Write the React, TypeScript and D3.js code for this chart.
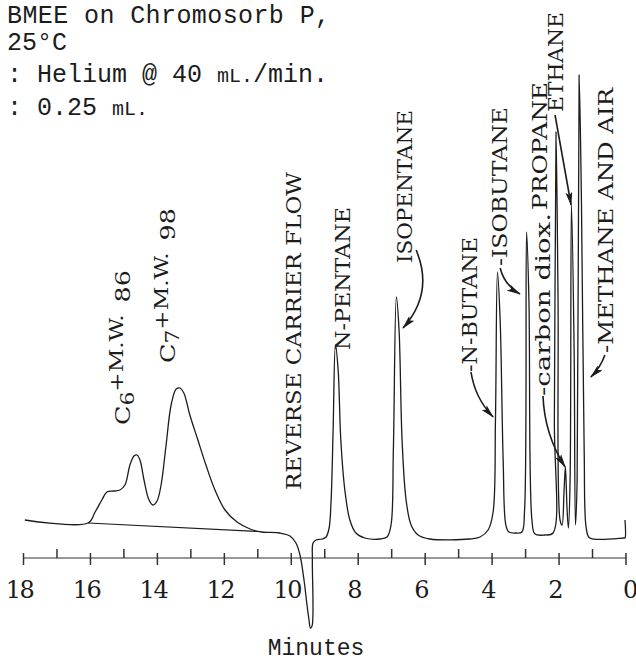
import React, { useRef, useEffect } from "react";
import * as d3 from "d3";

// Recorder trace: retention time (min) and detector response (% of full scale)
const traceTime = [
  17.96, 16.07, 15.86, 15.66, 15.51, 15.3, 15.12, 14.97, 14.82, 14.7, 14.61, 14.52, 14.4, 14.25,
  14.13, 14.01, 13.89, 13.74, 13.59, 13.44, 13.33, 13.21, 13.03, 12.79, 12.55, 12.28, 11.98, 11.62,
  11.23, 10.88, 10.34, 10.04, 9.86, 9.74, 9.62, 9.53, 9.47, 9.43,
  9.38, 9.37, 9.35, 9.26, 9.08, 8.96, 8.87, 8.81, 8.75, 8.68, 8.6, 8.52, 8.4, 8.25, 8.07, 7.8,
  7.35, 7.14, 7.02, 6.95, 6.86, 6.78, 6.69, 6.57, 6.42, 6.21, 5.86, 4.66, 4.36, 4.12, 3.97, 3.9,
  3.84, 3.76, 3.67, 3.59, 3.5, 3.29, 3.11, 3.03, 2.97, 2.9, 2.81, 2.72, 2.42, 2.18, 2.14, 2.09,
  2.03, 1.97, 1.91, 1.85, 1.81, 1.76, 1.72, 1.67, 1.63, 1.55, 1.51, 1.46, 1.4, 1.33, 1.25, 1.18,
  1.08, 0.06, 0.03, 0.03,
];
const traceSignal = [
  3.8, 3.2, 5.4, 7.8, 9.4, 9.6, 9.8, 10.8, 14.8, 16.6, 16.8, 15.8, 11.8, 7.8,
  6.8, 7.6, 10.8, 18.8, 26.8, 30.0, 30.2, 29.2, 24.8, 19.8, 14.8, 9.8, 5.8, 3.4,
  2.0, 1.4, 1.2, 0.6, -0.8, -3.2, -8.2, -13.2, -16.2, -17.8,
  -17.4, -4.2, -0.8, -0.2, 0, 0.4, 2.2, 7.8, 21.8, 38.8, 33.8, 19.8, 9.8, 3.8, 1.2, 0.2,
  0, 0.4, 2.8, 17.8, 48.4, 41.8, 19.8, 7.8, 2.8, 0.8, 0, 0, 0.4, 1.8, 5.4, 23.8,
  53.4, 43.8, 15.8, 2.8, 1.4, 1.2, 1.4, 5.8, 61.4, 47.8, 3.8, 1.0, 0.8, 1.2, 23.8, 81.4,
  47.8, 3.8, 2.8, 9.8, 14.4, 5.8, 2.2, 11.8, 66.8, 37.8, 2.8, 11.8, 92.8, 67.0, 17.8, 1.8,
  0.2, 0.2, 0.2, 3.8,
];

// drawn-in baseline under the C6/C7 hump
const driftTime = [16.07, 11.0];
const driftSignal = [3.2, 1.5];

// time axis
const majorTicks = [18, 16, 14, 12, 10, 8, 6, 4, 2, 0];
const minorTicks = [17, 15, 13, 11, 9, 7, 5, 3, 1];
const tickLabels = ["18", "16", "14", "12", "10", "8", "6", "4", "2", "0"];

// peak labels (typed sideways on the chart)
const peakNames = [
  "REVERSE CARRIER FLOW", "N-PENTANE", "ISOPENTANE", "-N-BUTANE", "-ISOBUTANE",
  "-carbon diox.", "PROPANE", "ETHANE", "-METHANE AND AIR",
];
const labelTime = [9.71, 8.25, 6.39, 4.45, 3.56, 2.27, 2.36, 1.88, 0.39];
const labelSignal = [9.8, 37.8, 55.2, 33.4, 54.6, 28.6, 65.8, 85.4, 37.2];
const labelSpan = [318, 143, 153, 135, 159, 183, 128, 100, 265];

// hand drawn arrows: from / to in (min, response)
const arrowFrom = [[6.27, 57.8], [4.63, 33.4], [3.76, 54.2], [2.48, 28.6], [2.12, 84.8], [0.63, 36.8]];
const arrowTo = [[6.66, 42.2], [3.97, 24.4], [3.17, 49.0], [1.82, 14.4], [1.64, 66.8], [1.05, 32.4]];
const arrowBend = [-25, 8, 7, 10, 0, -3];

const SERIF = "'DejaVu Serif', 'Liberation Serif', serif";
const MONO = "'Liberation Mono', 'DejaVu Sans Mono', monospace";
const INK = "#1c1c1c";

export default function App() {
  const svgRef = useRef<SVGSVGElement>(null);

  useEffect(() => {
    const svg = d3.select(svgRef.current);
    svg.selectAll("*").remove();

    const x = d3.scaleLinear().domain([18, 0]).range([23.5, 626]);
    const y = d3.scaleLinear().domain([0, 100]).range([539, 39]);
    const axisY = 558;

    svg
      .append("defs")
      .append("marker")
      .attr("id", "head")
      .attr("viewBox", "0 0 14 7")
      .attr("refX", 13)
      .attr("refY", 3.5)
      .attr("markerWidth", 14)
      .attr("markerHeight", 7)
      .attr("markerUnits", "userSpaceOnUse")
      .attr("orient", "auto")
      .append("path")
      .attr("d", "M0,0 L14,3.5 L0,7 L3,3.5 Z")
      .attr("fill", INK);

    // header text (typed run conditions)
    const head = svg.append("g").attr("font-family", MONO).attr("font-size", 25).attr("fill", INK);
    head.append("text").attr("x", 7).attr("y", 23).attr("letter-spacing", 0.4).text("BMEE on Chromosorb P,");
    head.append("text").attr("x", 7).attr("y", 50).text("25°C");
    const carrier = head.append("text").attr("x", 7).attr("y", 82);
    carrier.append("tspan").text(": Helium @ 40 ");
    carrier.append("tspan").attr("font-size", 20).text("mL.");
    carrier.append("tspan").text("/min.");
    const sample = head.append("text").attr("x", 7).attr("y", 115);
    sample.append("tspan").text(": 0.25 ");
    sample.append("tspan").attr("font-size", 20).text("mL.");

    // trace
    const line = d3
      .line<number>()
      .x((i) => x(traceTime[i]))
      .y((i) => y(traceSignal[i]))
      .curve(d3.curveCatmullRom.alpha(0.5));

    svg
      .append("path")
      .attr("d", line(d3.range(traceTime.length)))
      .attr("fill", "none")
      .attr("stroke", INK)
      .attr("stroke-width", 1.3)
      .attr("stroke-linejoin", "round");

    svg
      .append("line")
      .attr("x1", x(driftTime[0]))
      .attr("y1", y(driftSignal[0]))
      .attr("x2", x(driftTime[1]))
      .attr("y2", y(driftSignal[1]))
      .attr("stroke", INK)
      .attr("stroke-width", 1.1);

    // time axis
    const axis = svg.append("g").attr("stroke", "#333");
    axis
      .append("line")
      .attr("x1", x(18))
      .attr("x2", x(0))
      .attr("y1", axisY)
      .attr("y2", axisY)
      .attr("stroke-width", 1.2);
    axis
      .selectAll(".major")
      .data(majorTicks)
      .enter()
      .append("line")
      .attr("x1", (d) => x(d))
      .attr("x2", (d) => x(d))
      .attr("y1", axisY - 5)
      .attr("y2", axisY + 7)
      .attr("stroke-width", 1.5);
    axis
      .selectAll(".minor")
      .data(minorTicks)
      .enter()
      .append("line")
      .attr("x1", (d) => x(d))
      .attr("x2", (d) => x(d))
      .attr("y1", axisY - 9)
      .attr("y2", axisY)
      .attr("stroke-width", 1.5);

    svg
      .append("g")
      .attr("font-family", SERIF)
      .attr("font-size", 24)
      .attr("letter-spacing", -1.5)
      .attr("fill", INK)
      .attr("text-anchor", "middle")
      .selectAll("text")
      .data(majorTicks)
      .enter()
      .append("text")
      .attr("x", (d) => x(d) + (d === 0 ? 4 : -4))
      .attr("y", 598)
      .text((d, i) => tickLabels[i]);

    svg
      .append("text")
      .attr("x", 316)
      .attr("y", 655)
      .attr("font-family", MONO)
      .attr("font-size", 23)
      .attr("fill", INK)
      .attr("text-anchor", "middle")
      .text("Minutes");

    // sideways peak labels
    const labels = svg.append("g").attr("font-family", SERIF).attr("font-size", 21).attr("fill", INK);
    peakNames.forEach((name, i) => {
      labels
        .append("text")
        .attr("transform", `translate(${x(labelTime[i])},${y(labelSignal[i])}) rotate(-90)`)
        .attr("textLength", labelSpan[i])
        .attr("lengthAdjust", "spacingAndGlyphs")
        .text(name);
    });

    // C6 / C7 fraction labels
    const fractions = [
      { sub: "6", mw: "86", t: 14.82, s: 22.8 },
      { sub: "7", mw: "98", t: 13.47, s: 35.2 },
    ];
    fractions.forEach((f) => {
      const t = labels
        .append("text")
        .attr("transform", `translate(${x(f.t)},${y(f.s)}) rotate(-90)`)
        .attr("textLength", 155)
        .attr("lengthAdjust", "spacingAndGlyphs");
      t.append("tspan").text("C");
      t.append("tspan").attr("font-size", 18).attr("dy", 4).text(f.sub);
      t.append("tspan").attr("font-size", 19).attr("dy", -11).text("+M.W.");
      t.append("tspan").attr("dy", 7).attr("dx", 10).text(f.mw);
    });

    // arrows
    arrowFrom.forEach((a, i) => {
      const x0 = x(a[0]);
      const y0 = y(a[1]);
      const x1 = x(arrowTo[i][0]);
      const y1 = y(arrowTo[i][1]);
      const dx = x1 - x0;
      const dy = y1 - y0;
      const len = Math.hypot(dx, dy);
      const cx = (x0 + x1) / 2 + (-dy / len) * arrowBend[i];
      const cy = (y0 + y1) / 2 + (dx / len) * arrowBend[i];
      svg
        .append("path")
        .attr("d", `M${x0},${y0} Q${cx},${cy} ${x1},${y1}`)
        .attr("fill", "none")
        .attr("stroke", INK)
        .attr("stroke-width", 1.6)
        .attr("marker-end", "url(#head)");
    });
  }, []);

  return (
    <svg
      ref={svgRef}
      width={636}
      height={662}
      style={{ position: "absolute", left: 0, top: 0, background: "#fff" }}
    />
  );
}
